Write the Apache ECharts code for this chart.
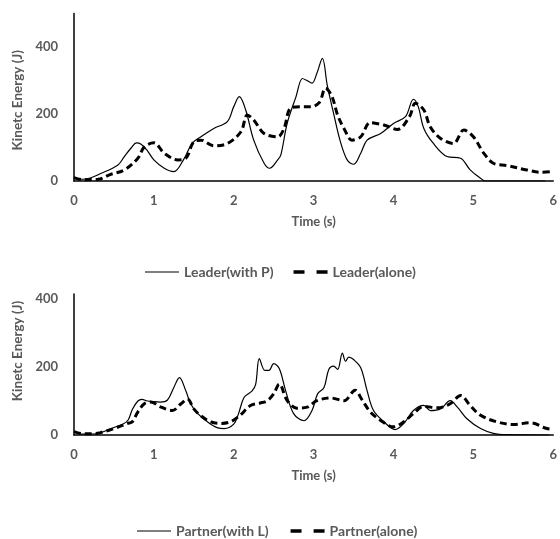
<!DOCTYPE html>
<html>
<head>
<meta charset="utf-8">
<script src="https://cdn.jsdelivr.net/npm/echarts@6/dist/echarts.min.js"></script>
<style>html,body{margin:0;padding:0;background:#fff}#c{width:560px;height:539px}</style>
</head>
<body>
<div id="c"></div>
<script>
// ---- Data ----
const xTicks = [0, 1, 2, 3, 4, 5, 6];
const yTicks = [0, 200, 400];

const leaderWithP_t = [0, 0.05, 0.15, 0.34, 0.55, 0.63, 0.72, 0.78, 0.84, 0.92, 1.0, 1.13, 1.25, 1.37, 1.48, 1.59, 1.75, 1.92, 2.0, 2.07, 2.15, 2.25, 2.38, 2.45, 2.55, 2.59, 2.67, 2.78, 2.86, 2.91, 2.98, 3.04, 3.11, 3.17, 3.25, 3.33, 3.42, 3.5, 3.59, 3.67, 3.84, 4.0, 4.15, 4.25, 4.31, 4.38, 4.5, 4.67, 4.84, 4.96, 5.09, 5.15, 5.9];
const leaderWithP_ke = [12, 5, 6, 23, 48, 73, 100, 114, 110, 90, 63, 38, 28, 63, 113, 132, 157, 177, 222, 252, 212, 122, 53, 38, 63, 78, 173, 252, 306, 301, 292, 321, 366, 287, 202, 122, 63, 50, 83, 122, 142, 172, 192, 244, 222, 157, 112, 73, 68, 33, 8, 0, 0];

const leaderAlone_t = [0, 0.1, 0.3, 0.46, 0.63, 0.8, 0.88, 1.0, 1.13, 1.3, 1.4, 1.5, 1.59, 1.75, 1.92, 2.09, 2.17, 2.25, 2.38, 2.55, 2.63, 2.71, 2.84, 2.96, 3.07, 3.15, 3.23, 3.3, 3.38, 3.48, 3.59, 3.71, 3.88, 4.05, 4.2, 4.275, 4.38, 4.46, 4.59, 4.75, 4.88, 5.0, 5.13, 5.25, 5.42, 5.67, 5.84, 6.0];
const leaderAlone_ke = [10, 4, 5, 20, 33, 68, 102, 114, 83, 63, 68, 117, 122, 105, 112, 147, 197, 182, 142, 132, 157, 217, 222, 222, 234, 277, 252, 197, 157, 122, 132, 174, 167, 154, 192, 232, 212, 162, 127, 112, 152, 132, 83, 53, 46, 33, 26, 28];

const partnerWithL_t = [0, 0.08, 0.25, 0.35, 0.5, 0.62, 0.68, 0.73, 0.8, 0.85, 0.92, 1.0, 1.08, 1.17, 1.25, 1.32, 1.4, 1.46, 1.55, 1.67, 1.8, 1.88, 2.0, 2.06, 2.13, 2.23, 2.275, 2.32, 2.39, 2.44, 2.5, 2.57, 2.65, 2.75, 2.88, 2.98, 3.05, 3.13, 3.19, 3.25, 3.3, 3.36, 3.4, 3.44, 3.5, 3.59, 3.67, 3.75, 3.88, 4.02, 4.13, 4.25, 4.38, 4.46, 4.59, 4.71, 4.8, 4.92, 5.09, 5.25, 5.42, 5.95];
const partnerWithL_ke = [10, 3, 3, 8, 22, 33, 45, 75, 100, 105, 100, 98, 97, 103, 140, 169, 130, 92, 63, 39, 21, 19, 32, 63, 111, 130, 150, 225, 190, 190, 210, 196, 130, 63, 42, 72, 121, 140, 193, 203, 193, 241, 217, 229, 222, 198, 130, 72, 39, 16, 34, 72, 87, 72, 77, 101, 82, 48, 19, 5, 1, 0];

const partnerAlone_t = [0, 0.1, 0.25, 0.33, 0.5, 0.67, 0.73, 0.8, 0.88, 0.96, 1.09, 1.23, 1.34, 1.42, 1.5, 1.58, 1.71, 1.84, 1.96, 2.08, 2.21, 2.33, 2.42, 2.5, 2.57, 2.67, 2.79, 2.92, 3.04, 3.21, 3.38, 3.52, 3.6, 3.71, 3.84, 4.0, 4.13, 4.25, 4.38, 4.55, 4.71, 4.84, 4.96, 5.09, 5.29, 5.5, 5.71, 5.92, 6.0];
const partnerAlone_ke = [10, 4, 4, 7, 19, 34, 39, 68, 92, 97, 82, 72, 92, 106, 77, 58, 39, 34, 39, 58, 87, 94, 101, 121, 150, 101, 79, 82, 101, 109, 101, 132, 106, 68, 43, 24, 39, 63, 84, 80, 92, 116, 87, 58, 39, 31, 36, 19, 16];

const zip = (t, v) => t.map((x, i) => [x, v[i]]);

// ---- Styling ----
const FONT = 'Lato';
const GRAY = '#595959';
const solidStyle = { color: '#000', width: 1.2, type: 'solid' };
const dashStyle = { color: '#000', width: 3, type: [7, 4] };
const solidIcon = 'path://M0,0H34V1.2H0Z';
const dashIcon = 'path://M0,0H10V3H0Z M21,0H31V3H21Z';

function xAxisCfg(gridIndex) {
  return {
    type: 'value', gridIndex, min: 0, max: 6, interval: 1,
    name: 'Time (s)', nameLocation: 'middle', nameGap: 34,
    nameTextStyle: { color: GRAY, fontFamily: FONT, fontWeight: 'bold', fontSize: 13 },
    axisLine: { show: true, lineStyle: { color: '#000', width: 1.5 } },
    axisTick: { show: false },
    splitLine: { show: false },
    axisLabel: { color: GRAY, fontFamily: FONT, fontWeight: 'bold', fontSize: 13, margin: 13,
      formatter: v => xTicks.includes(v) ? String(v) : '' }
  };
}
function yAxisCfg(gridIndex, max, pad) {
  return {
    type: 'value', gridIndex, min: 0, max, interval: 200,
    name: 'Kinetc Energy (J)', nameLocation: 'middle', nameGap: 47,
    nameTextStyle: { color: GRAY, fontFamily: FONT, fontWeight: 'bold', fontSize: 13.5, padding: pad },
    axisLine: { show: true, lineStyle: { color: '#000', width: 1.5 } },
    axisTick: { show: false },
    splitLine: { show: false },
    axisLabel: { color: GRAY, fontFamily: FONT, fontWeight: 'bold', fontSize: 13, margin: 16,
      showMaxLabel: false,
      formatter: v => yTicks.includes(v) ? String(v) : '' }
  };
}
function lineSeries(name, data, idx, style) {
  return {
    name, type: 'line', xAxisIndex: idx, yAxisIndex: idx,
    data, symbol: 'none', smooth: 0.35, lineStyle: style,
    itemStyle: { color: '#000' }, animation: false, silent: true
  };
}
const legendText = { color: GRAY, fontFamily: FONT, fontWeight: 'bold', fontSize: 14 };

const chart = echarts.init(document.getElementById('c'), null, { renderer: 'canvas' });
chart.setOption({
  backgroundColor: '#fff',
  animation: false,
  grid: [
    { left: 74, right: 6, top: 13.5, height: 167.5 },
    { left: 74, right: 6, top: 294, height: 141 }
  ],
  xAxis: [xAxisCfg(0), xAxisCfg(1)],
  yAxis: [yAxisCfg(0, 500, [0, 6, 0, 0]), yAxisCfg(1, 415, [0, 0, 0, 27])],
  legend: [
    { top: 260, left: 140, itemWidth: 34, itemHeight: 10, itemGap: 20, textStyle: legendText,
      data: [
        { name: 'Leader(with P)', icon: solidIcon },
        { name: 'Leader(alone)', icon: dashIcon }
      ] },
    { top: 519, left: 132, itemWidth: 34, itemHeight: 10, itemGap: 22, textStyle: legendText,
      data: [
        { name: 'Partner(with L)', icon: solidIcon },
        { name: 'Partner(alone)', icon: dashIcon }
      ] }
  ],
  series: [
    lineSeries('Leader(with P)', zip(leaderWithP_t, leaderWithP_ke), 0, solidStyle),
    lineSeries('Leader(alone)', zip(leaderAlone_t, leaderAlone_ke), 0, dashStyle),
    lineSeries('Partner(with L)', zip(partnerWithL_t, partnerWithL_ke), 1, solidStyle),
    lineSeries('Partner(alone)', zip(partnerAlone_t, partnerAlone_ke), 1, dashStyle)
  ]
});
</script>
</body>
</html>
